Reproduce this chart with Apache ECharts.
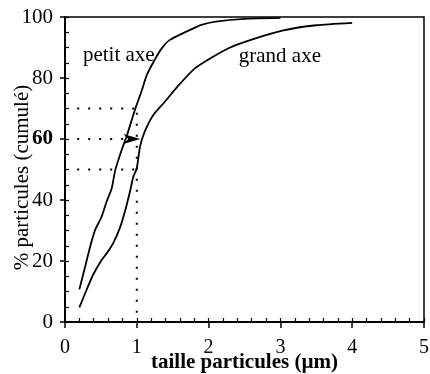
<!DOCTYPE html>
<html>
<head>
<meta charset="utf-8">
<script src="https://cdn.jsdelivr.net/npm/echarts@6/dist/echarts.min.js"></script>
<style>
html,body{margin:0;padding:0;background:#fff;}
#chart{width:430px;height:374px;}
</style>
</head>
<body>
<div id="chart"></div>
<script>
// Data
const xTicks = [0, 1, 2, 3, 4, 5];
const yTicks = [0, 20, 40, 60, 80, 100];

const petitX = [0.2, 0.28, 0.35, 0.42, 0.51, 0.58, 0.65, 0.70, 0.79, 0.86, 0.98, 1.07, 1.14, 1.25, 1.35, 1.46, 1.69, 1.9, 2.1, 2.5, 3.0];
const petitY = [10.7, 18.1, 24.7, 30.2, 34.5, 39.5, 43.8, 49.8, 56.5, 61, 70, 76, 81, 86, 89.8, 92.5, 95.2, 97.4, 98.5, 99.4, 99.7];

const grandX = [0.2, 0.3, 0.39, 0.51, 0.58, 0.67, 0.77, 0.84, 0.91, 0.95, 1.0, 1.045, 1.11, 1.23, 1.39, 1.56, 1.8, 2.05, 2.3, 2.6, 3.04, 3.5, 4.0];
const grandY = [4.8, 10.5, 15.4, 20.3, 22.5, 25.8, 31.2, 36.7, 43.3, 47.5, 50.5, 57.5, 62.4, 67.9, 72.2, 77, 83, 86.8, 90, 92.6, 95.6, 97.3, 98.1];

// dotted guides: [x1, y1, x2, y2]
const guide70 = [0.17, 70, 1.0, 70];
const guide60 = [0.17, 60, 0.82, 60];
const guide50 = [0.17, 50, 0.98, 50];
const guideV = [1.0, 3, 1.0, 69];
const arrowPoint = [0.93, 60];

const labelNames = ['petit axe', 'grand axe'];
const labelX = [0.25, 2.42];
const labelY = [87.5, 87];

const FONT = 'Liberation Serif';

function pairs(xs, ys) { return xs.map((x, i) => [x, ys[i]]); }
function seg(g) { return [[g[0], g[1]], [g[2], g[3]]]; }

const dotted = { color: '#000', width: 2, type: [2, 9], cap: 'butt' };

function guideSeries(g) {
  return {
    type: 'line', data: seg(g), symbol: 'none', silent: true,
    lineStyle: dotted, xAxisIndex: 0, yAxisIndex: 0, z: 3
  };
}

const chart = echarts.init(document.getElementById('chart'), null, { renderer: 'canvas' });

chart.setOption({
  animation: false,
  backgroundColor: '#fff',
  grid: {
    left: 65, right: 6, top: 17, bottom: 52,
    containLabel: false, outerBoundsMode: 'none',
    show: true, borderColor: '#000', borderWidth: 1.5, backgroundColor: 'transparent'
  },
  xAxis: [
    {
      type: 'value', min: xTicks[0], max: xTicks[xTicks.length - 1], interval: 1,
      position: 'bottom',
      axisLine: { show: true, onZero: false, lineStyle: { color: '#000', width: 2 } },
      axisTick: { show: true, inside: false, length: 6, lineStyle: { color: '#000', width: 1.5 } },
      axisLabel: { show: true, margin: 16, color: '#000', fontFamily: FONT, fontSize: 20 },
      splitLine: { show: false },
      name: 'taille particules (µm)', nameLocation: 'middle', nameGap: 30, nameMoveOverlap: false,
      nameTextStyle: { color: '#000', fontFamily: FONT, fontSize: 21, fontWeight: 'bold' }
    },
    {
      type: 'value', min: 0, max: 5, interval: 0.2, position: 'bottom', offset: 0,
      axisLine: { show: false },
      axisTick: { show: true, inside: true, length: 4, lineStyle: { color: '#000', width: 1.2 } },
      axisLabel: { show: false },
      splitLine: { show: false }
    }
  ],
  yAxis: [
    {
      type: 'value', min: yTicks[0], max: yTicks[yTicks.length - 1], interval: 20,
      position: 'left',
      axisLine: { show: true, onZero: false, lineStyle: { color: '#000', width: 2 } },
      axisTick: { show: true, inside: false, length: 5, lineStyle: { color: '#000', width: 1.5 } },
      axisLabel: {
        show: true, margin: 12, color: '#000', fontFamily: FONT, fontSize: 21,
        formatter: v => v === 60 ? '{b|60}' : String(v),
        rich: { b: { fontFamily: FONT, fontSize: 21, fontWeight: 'bold', color: '#000' } }
      },
      splitLine: { show: false },
      name: '% particules (cumulé)', nameLocation: 'middle', nameGap: 32, nameMoveOverlap: false,
      nameTextStyle: { color: '#000', fontFamily: FONT, fontSize: 21, padding: [0, 16, 0, 0] }
    },
    {
      type: 'value', min: 0, max: 100, interval: 5, position: 'left', offset: 0,
      axisLine: { show: false },
      axisTick: { show: true, inside: true, length: 4, lineStyle: { color: '#000', width: 1.2 } },
      axisLabel: { show: false },
      splitLine: { show: false }
    }
  ],
  series: [
    {
      name: 'petit axe', type: 'line', data: pairs(petitX, petitY), symbol: 'none', smooth: 0.2,
      lineStyle: { color: '#000', width: 1.8 }, xAxisIndex: 0, yAxisIndex: 0, z: 4
    },
    {
      name: 'grand axe', type: 'line', data: pairs(grandX, grandY), symbol: 'none', smooth: 0.2,
      lineStyle: { color: '#000', width: 1.8 }, xAxisIndex: 0, yAxisIndex: 0, z: 4
    },
    guideSeries(guide70),
    guideSeries(guide60),
    guideSeries(guide50),
    guideSeries(guideV),
    {
      type: 'scatter', data: [arrowPoint],
      symbol: 'path://M0,0 L17,5 L0,10 L5,5 Z', symbolSize: [17, 10],
      itemStyle: { color: '#000', opacity: 1 }, xAxisIndex: 0, yAxisIndex: 0, z: 5, silent: true
    },
    {
      type: 'scatter', symbolSize: 0, xAxisIndex: 0, yAxisIndex: 0, silent: true,
      itemStyle: { opacity: 1 },
      data: labelNames.map((n, i) => ({ name: n, value: [labelX[i], labelY[i]] })),
      label: {
        show: true, position: 'right', distance: 0, formatter: p => p.name,
        color: '#000', opacity: 1, fontFamily: FONT, fontSize: 21
      }
    }
  ]
});
</script>
</body>
</html>
